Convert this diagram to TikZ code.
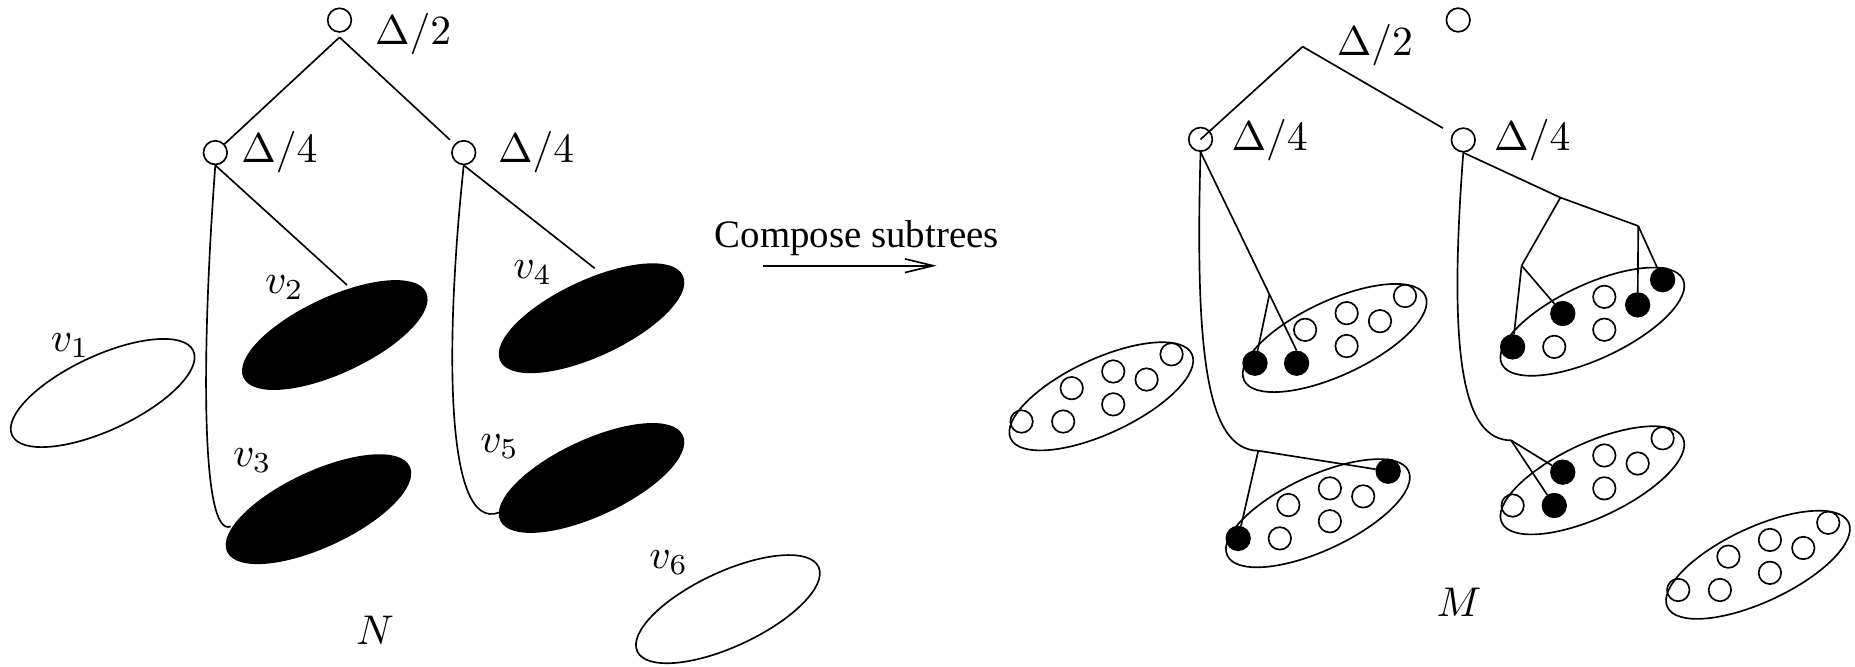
\documentclass[tikz,border=0pt]{standalone}
\usepackage[no-math]{fontspec}
\newfontfamily\capfont{Liberation Serif}
\usetikzlibrary{shapes.geometric,arrows.meta,calc}
\def\ux{0.285pt}
\tikzset{
  treenode/.style={circle,draw,inner sep=0pt,minimum size=20*\ux},
  odot/.style={circle,draw,inner sep=0pt,minimum size=19*\ux},
  fdot/.style={circle,draw,fill=black,inner sep=0pt,minimum size=20*\ux},
  setshape/.style={ellipse,draw,inner sep=0pt,minimum width=169*\ux,minimum height=63*\ux,rotate=25},
  blackset/.style={setshape,fill=black},
  lbl/.style={anchor=base west,inner sep=0pt,outer sep=0pt},
}
% a set of seven vertices: name, centre x, centre y, filled flags
\newcommand\setcluster[4]{%
  \node[setshape] (#1) at (#2,#3) {};
  \foreach \dx/\dy [count=\i] in {-67.4/21.3,-32.2/21.3,-25/-6.9,10.1/-21,10.1/6.8,38.3/-14.2,59.4/-35.5}{%
    \pgfmathtruncatemacro\isfilled{{#4}[\i-1]}%
    \ifnum\isfilled=1
      \node[fdot] (#1\i) at ({#2+(\dx)},{#3+(\dy)}) {};
    \else
      \node[odot] (#1\i) at ({#2+(\dx)},{#3+(\dy)}) {};
    \fi
  }%
}
\begin{document}
\begin{tikzpicture}[x=\ux,y=-\ux,line width=0.4pt]
\useasboundingbox (0,0) rectangle (1568,563);

% ---- tree N ----
\node[treenode] (rt) at (287,17) {};
\node[treenode] (lc) at (182,129) {};
\node[treenode] (rc) at (392,129) {};
\node[lbl] (lrt) at (317,38) {$\Delta/2$};
\node[lbl] (llc) at (204,137.5) {$\Delta/4$};
\node[lbl] (lrc) at (421,137.5) {$\Delta/4$};
\coordinate (rtfoot) at (287,31.5);
\draw (rtfoot) -- (lc);
\draw[shorten >=1.5pt] (rtfoot) -- (rc);

\node[setshape] (v1) at (86.8,332.2) {};
\node[blackset] (v2) at (283,283.2) {};
\node[blackset] (v3) at (269.2,430.4) {};
\node[blackset] (v4) at (500,269) {};
\node[blackset] (v5) at (500,404) {};
\node[setshape] (v6) at (615.3,514.9) {};

\node[lbl] (lv1) at (43,297) {$v_1$};
\node[lbl] (lv2) at (224,248) {$v_2$};
\node[lbl] (lv3) at (197,394.5) {$v_3$};
\node[lbl] (lv4) at (434,235) {$v_4$};
\node[lbl] (lv5) at (406,382.6) {$v_5$};
\node[lbl] (lv6) at (549,480.4) {$v_6$};
\node[lbl] (lN) at (301,545) {$N$};

\coordinate (v2in) at (293.3,240.9);
\coordinate (v3in) at (195,445);
\coordinate (v4in) at (502.7,226.8);
\coordinate (v5in) at (421.7,433.3);
\draw (lc.south) -- (v2in);
\draw (lc.south) .. controls (170,300) and (170,455) .. (v3in);
\draw (rc.south) -- (v4in);
\draw (rc.south) .. controls (376,290) and (376,450) .. (v5in);

% ---- transformation arrow ----
\node[lbl,font={\capfont\fontsize{9.36}{11}\selectfont}] (cmp) at (604.3,209.1) {Compose subtrees};
\coordinate (ar0) at (645.2,224.6);
\coordinate (ar1) at (791.7,224.6);
\draw[-{Straight Barb[length=6.8pt,width=3.3pt]}] (ar0) -- (ar1);

% ---- tree M ----
\coordinate (T) at (1101.1,39.4);
\node[treenode] (lq) at (1014.8,117.8) {};
\node[treenode] (rq) at (1236.9,118.3) {};
\node[treenode] (lone) at (1232.6,16.9) {};
\node[lbl] (mrt) at (1130,46.5) {$\Delta/2$};
\node[lbl] (mlq) at (1041,126.8) {$\Delta/4$};
\node[lbl] (mrq) at (1263,126.8) {$\Delta/4$};
\node[lbl] (lM) at (1214.3,520.7) {$M$};
\draw (T) -- (lq.center);
\draw[shorten >=2.6pt] (T) -- (rq);

\setcluster{A}{1128.2}{285.7}{1,1,0,0,0,0,0}
\setcluster{B}{1346}{271.9}{1,0,1,0,0,1,1}
\setcluster{C}{930.9}{335}{0,0,0,0,0,0,0}
\setcluster{D}{1114}{433.8}{1,0,0,0,0,0,1}
\setcluster{E}{1346}{406}{0,1,1,0,0,0,0}
\setcluster{F}{1486}{477.4}{0,0,0,0,0,0,0}

\draw (lq.south) -- coordinate[pos=0.717] (ba) (A2.north);
\draw (ba) -- (A1);
\coordinate (J1) at (1063.6,381);
\draw (lq.south) .. controls (1010,300) and (1020,380) .. (J1);
\draw (J1) -- (D1);
\draw (J1) -- (D7);

\coordinate (K1) at (1319,167);
\coordinate (K2) at (1384.8,191);
\coordinate (K3) at (1286.2,224.5);
\draw (rq.south) -- (K1) -- (K2);
\draw (K1) -- (K3);
\draw (K3) -- (B1);
\draw (K3) -- (B3);
\draw (K2) -- (B6);
\draw (K2) -- (B7);
\coordinate (J2) at (1277.3,372.2);
\draw (rq.south) .. controls (1224,300) and (1236,372) .. (J2);
\draw (J2) -- (E2);
\draw (J2) -- (E3);
\end{tikzpicture}
\end{document}
